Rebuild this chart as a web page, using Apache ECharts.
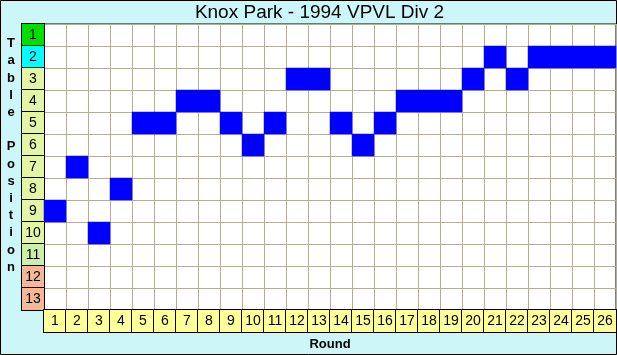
<!DOCTYPE html>
<html>
<head>
<meta charset="utf-8">
<script src="https://cdn.jsdelivr.net/npm/echarts@6/dist/echarts.min.js"></script>
<style>
  html, body { margin: 0; padding: 0; }
  #chart { width: 617px; height: 355px; }
</style>
</head>
<body>
<div id="chart"></div>
<script>
// league position after each round
const rounds = ['1','2','3','4','5','6','7','8','9','10','11','12','13','14','15','16','17','18','19','20','21','22','23','24','25','26'];
const positionLabels = ['1','2','3','4','5','6','7','8','9','10','11','12','13'];
const positions = [9, 7, 10, 8, 5, 5, 4, 4, 5, 6, 5, 3, 3, 5, 6, 5, 4, 4, 4, 3, 2, 3, 2, 2, 2, 2];

const chart = echarts.init(document.getElementById('chart'));
const font = 'Liberation Sans, Arial, sans-serif';

// which colour band a table position belongs to
const band = (p) => {
    const n = Number(p);
    if (n === 1) return 'g';
    if (n === 2) return 'c';
    if (n <= 10) return 'y';
    if (n === 11) return 'l';
    return 'o';
};
const cell = (bg) => ({
    backgroundColor: bg,
    borderColor: '#000',
    borderWidth: 1,
    width: 22,
    height: 22,
    lineHeight: 22,
    align: 'center',
    fontSize: 14,
    fontFamily: font,
    color: '#000'
});

const option = {
    backgroundColor: '#CCF6F8',
    animation: false,
    grid: {
        left: 44, top: 24, width: 572, height: 286,
        outerBoundsMode: 'none',
        show: true, backgroundColor: '#fff', borderColor: '#000', borderWidth: 1
    },
    xAxis: {
        type: 'category',
        data: rounds,
        name: 'Round',
        nameLocation: 'middle',
        nameGap: 27,
        nameTextStyle: { fontFamily: font, fontWeight: 'bold', fontSize: 13, color: '#000' },
        axisLine: { show: false },
        axisTick: { show: false },
        splitLine: { show: true, lineStyle: { color: '#B4AC9C', width: 1 } },
        axisLabel: {
            margin: 0,
            verticalAlign: 'top',
            interval: 0,
            formatter: (v) => `{x|${v}}`,
            rich: { x: cell('#FFFF99') }
        }
    },
    yAxis: {
        type: 'category',
        data: positionLabels,
        inverse: true,
        axisLine: { show: false },
        axisTick: { show: false },
        splitLine: { show: true, lineStyle: { color: '#B4AC9C', width: 1 } },
        axisLabel: {
            margin: 0,
            align: 'right',
            interval: 0,
            formatter: (v) => `{${band(v)}|${v}}`,
            rich: {
                g: cell('#00DD00'),
                c: cell('#00FFFF'),
                y: cell('#E4F6A6'),
                l: cell('#CCEEA8'),
                o: cell('#F4B896')
            }
        }
    },
    graphic: [
        {
            type: 'text',
            x: 319.5,
            y: 12.5,
            style: {
                text: 'Knox Park - 1994 VPVL Div 2',
                fontFamily: font, fontSize: 19, fill: '#000',
                align: 'center', verticalAlign: 'middle'
            }
        },
        {
            type: 'text',
            x: 11,
            y: 35,
            style: {
                text: 'T\na\nb\nl\ne\n\nP\no\ns\ni\nt\ni\no\nn',
                fontFamily: font, fontWeight: 'bold', fontSize: 13,
                lineHeight: 17.2, align: 'center', verticalAlign: 'top', fill: '#000'
            }
        },
        {
            type: 'rect',
            shape: { x: 0.5, y: 0.5, width: 616, height: 354 },
            style: { fill: null, stroke: '#000', lineWidth: 1 },
            silent: true
        }
    ],
    series: [
        {
            type: 'heatmap',
            data: positions.map((p, i) => [i, p - 1, 1]),
            itemStyle: { color: '#0000FF' }
        }
    ]
};
chart.setOption(option);
</script>
</body>
</html>
